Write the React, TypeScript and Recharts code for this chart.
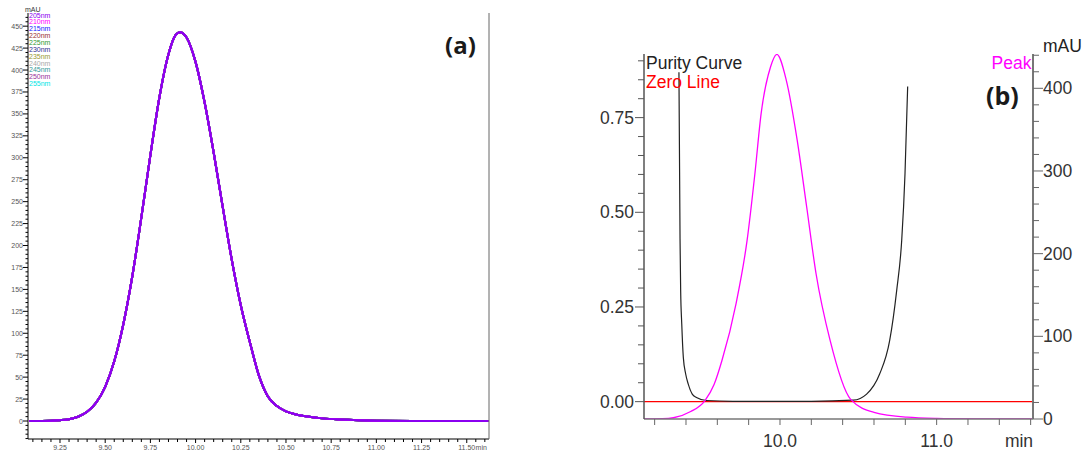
import React from "react";
import { LineChart, Line, XAxis, YAxis } from "recharts";

// ---- panel (a): multi-wavelength chromatogram ----
const wavelengths = ["205nm", "210nm", "215nm", "220nm", "225nm", "230nm", "235nm", "240nm", "245nm", "250nm", "255nm"];
const waveColors = ["#8A00F0", "#FF00FF", "#2020FF", "#993333", "#339933", "#303090", "#999933", "#AAAAAA", "#339999", "#993399", "#00E5E5"];

const peakTimeA = [9.08, 9.2, 9.25, 9.3, 9.35, 9.4, 9.45, 9.5, 9.55, 9.6, 9.65, 9.7, 9.75, 9.8, 9.85, 9.89, 9.914, 9.95, 10.0, 10.05, 10.1, 10.15, 10.2, 10.25, 10.3, 10.35, 10.4, 10.45, 10.5, 10.55, 10.6, 10.7, 10.8, 10.9, 11.0, 11.2, 11.62];
const peakAbsA = [0, 0.3, 0.9, 2.1, 4.9, 10.5, 21, 39, 68, 110, 165, 232, 303, 369, 418, 440, 443, 437, 409, 363, 306, 244, 184, 132, 90, 52, 28, 17, 11, 7.8, 5.8, 3, 1.6, 0.8, 0.4, 0.1, 0];

const yMajorA = [0, 25, 50, 75, 100, 125, 150, 175, 200, 225, 250, 275, 300, 325, 350, 375, 400, 425, 450];
const xMajorA = [9.25, 9.5, 9.75, 10, 10.25, 10.5, 10.75, 11, 11.25, 11.5];

// ---- panel (b): peak purity ----
const purityTime = [9.355, 9.362, 9.366, 9.373, 9.383, 9.398, 9.414, 9.44, 9.467, 9.531, 9.7, 10.2, 10.468, 10.553, 10.636, 10.7, 10.745, 10.777, 10.798, 10.815];
const purityValue = [0.87, 0.43, 0.294, 0.205, 0.117, 0.073, 0.047, 0.02, 0.011, 0.003, 0.001, 0.001, 0.004, 0.02, 0.073, 0.161, 0.294, 0.426, 0.602, 0.832];

const peakTimeB = [9.13, 9.25, 9.32, 9.43, 9.52, 9.58, 9.63, 9.72, 9.79, 9.84, 9.88, 9.94, 9.98, 10.04, 10.11, 10.17, 10.23, 10.32, 10.45, 10.6, 10.81, 11.0, 11.3, 11.615];
const peakAbsB = [0, 0.3, 1.5, 9, 22, 42, 71, 140, 216, 297, 370, 426, 441, 410, 337, 257, 176, 95, 24, 8, 2.2, 0.8, 0.2, 0];

const yMajorB = [0, 0.25, 0.5, 0.75];
const yMajorRightB = [0, 100, 200, 300, 400];
const xMajorB = [10, 11];

const range = (from: number, to: number, step: number) => {
  const out: number[] = [];
  const n = Math.round((to - from) / step);
  for (let i = 0; i <= n; i++) out.push(Math.round((from + i * step) * 1000) / 1000);
  return out;
};

const peakA = peakTimeA.map((t, i) => ({ t, v: peakAbsA[i] }));
const purity = purityTime.map((t, i) => ({ t, v: purityValue[i] }));
const zeroLine = [{ t: 9.132, v: 0 }, { t: 11.615, v: 0 }];
const peakB = peakTimeB.map((t, i) => ({ t, v: peakAbsB[i] }));

const sans = "'Liberation Sans', Arial, sans-serif";

const YTickA = ({ x, y, payload }: any) => {
  const major = yMajorA.includes(payload.value);
  return (
    <g>
      <line x1={x - (major ? 5 : 2.5)} x2={x} y1={y} y2={y} stroke="#000" />
      {major && (
        <text x={x - 5} y={y + 2.5} textAnchor="end" fontSize={7} fill="#555" fontFamily={sans}>
          {payload.value}
        </text>
      )}
    </g>
  );
};

const XTickA = ({ x, y, payload }: any) => {
  const major = xMajorA.includes(payload.value);
  return (
    <g>
      <line x1={x} x2={x} y1={y} y2={y + (major ? 4 : 3)} stroke="#000" />
      {major && (
        <text x={x} y={y + 11} textAnchor="middle" fontSize={7} fill="#555" fontFamily={sans}>
          {payload.value.toFixed(2)}
        </text>
      )}
      {payload.value === 11.5 && (
        <text x={x + 8.8} y={y + 11} textAnchor="start" fontSize={7} fill="#555" fontFamily={sans}>
          min
        </text>
      )}
    </g>
  );
};

const YTickB = ({ x, y, payload }: any) => {
  const major = yMajorB.includes(payload.value);
  return (
    <g>
      <line x1={x - (major ? 9 : 6)} x2={x} y1={y} y2={y} stroke="#555" />
      {major && (
        <text x={x - 10} y={y + 6} textAnchor="end" fontSize={17.5} fill="#333" fontFamily={sans}>
          {payload.value.toFixed(2)}
        </text>
      )}
    </g>
  );
};

const YTickRightB = ({ x, y, payload }: any) => {
  const major = yMajorRightB.includes(payload.value);
  return (
    <g>
      <line x1={x} x2={x + (major ? 10 : 6)} y1={y} y2={y} stroke="#666" />
      {major && (
        <text x={x + 10} y={y + 6} textAnchor="start" fontSize={17.5} fill="#333" fontFamily={sans}>
          {payload.value}
        </text>
      )}
    </g>
  );
};

const XTickB = ({ x, y, payload }: any) => {
  const major = xMajorB.includes(payload.value);
  return (
    <g>
      <line x1={x} x2={x} y1={y} y2={y + 6} stroke="#666" />
      {major && (
        <text x={x} y={y + 28} textAnchor="middle" fontSize={17.5} fill="#333" fontFamily={sans}>
          {payload.value.toFixed(1)}
        </text>
      )}
    </g>
  );
};

export default function App() {
  return (
    <div style={{ position: "absolute", left: 0, top: 0, width: 1088, height: 451, background: "#fff", overflow: "hidden" }}>
      <div style={{ position: "absolute", left: 0, top: 0 }}>
        <LineChart width={500} height={451} data={peakA} margin={{ top: 13, right: 0, bottom: 0, left: 0 }}>
          <XAxis
            dataKey="t"
            type="number"
            domain={[9.073, 11.623]}
            allowDataOverflow
            ticks={range(9.1, 11.6, 0.05)}
            interval={0}
            tickSize={0}
            tickMargin={0}
            tickLine={false}
            tick={(p: any) => <XTickA {...p} />}
            height={12}
            axisLine={{ stroke: "#000" }}
          />
          <XAxis xAxisId="top" orientation="top" type="number" domain={[0, 1]} height={0} tick={false} tickLine={false} axisLine={{ stroke: "#666" }} />
          <YAxis
            type="number"
            domain={[-20.5, 465]}
            allowDataOverflow
            ticks={range(-20, 460, 5)}
            interval={0}
            tickSize={0}
            tickMargin={0}
            tickLine={false}
            tick={(p: any) => <YTickA {...p} />}
            width={28}
            axisLine={{ stroke: "#000" }}
          />
          <YAxis yAxisId="frame" orientation="right" domain={[0, 1]} width={11} tick={false} tickLine={false} axisLine={{ stroke: "#666" }} />
          {wavelengths
            .map((w, i) => (
              <Line key={w} name={w} dataKey="v" type="monotone" stroke={waveColors[i]} strokeWidth={2} dot={false} isAnimationActive={false} />
            ))
            .reverse()}
        </LineChart>
      </div>

      <div style={{ position: "absolute", left: 580, top: 0 }}>
        <LineChart width={508} height={451} margin={{ top: 54, right: 0, bottom: 0, left: 0 }}>
          <XAxis
            dataKey="t"
            type="number"
            domain={[9.132, 11.615]}
            allowDataOverflow
            ticks={range(9.2, 11.6, 0.2)}
            interval={0}
            tickSize={0}
            tickMargin={0}
            tickLine={false}
            tick={(p: any) => <XTickB {...p} />}
            height={32}
            axisLine={{ stroke: "#777", strokeWidth: 1.5 }}
          />
          <XAxis xAxisId="top" orientation="top" type="number" domain={[0, 1]} height={0} tick={false} tickLine={false} axisLine={{ stroke: "#888", strokeWidth: 1.5 }} />
          <YAxis
            yAxisId="pur"
            type="number"
            domain={[-0.0458, 0.918]}
            allowDataOverflow
            ticks={range(0, 0.9, 0.05)}
            interval={0}
            tickSize={0}
            tickMargin={0}
            tickLine={false}
            tick={(p: any) => <YTickB {...p} />}
            width={64}
            axisLine={{ stroke: "#555", strokeWidth: 1.5 }}
          />
          <YAxis
            yAxisId="mau"
            orientation="right"
            type="number"
            domain={[0, 441.5]}
            allowDataOverflow
            ticks={range(0, 440, 20)}
            interval={0}
            tickSize={0}
            tickMargin={0}
            tickLine={false}
            tick={(p: any) => <YTickRightB {...p} />}
            width={55}
            axisLine={{ stroke: "#777", strokeWidth: 2 }}
          />
          <Line yAxisId="pur" data={zeroLine} name="Zero Line" dataKey="v" type="linear" stroke="#FF0000" strokeWidth={1.3} dot={false} isAnimationActive={false} />
          <Line yAxisId="pur" data={purity} name="Purity Curve" dataKey="v" type="monotone" stroke="#222" strokeWidth={1.2} dot={false} isAnimationActive={false} />
          <Line yAxisId="mau" data={peakB} name="Peak" dataKey="v" type="monotone" stroke="#FF00FF" strokeWidth={1.3} dot={false} isAnimationActive={false} />
        </LineChart>
      </div>

      <svg width={1088} height={451} style={{ position: "absolute", left: 0, top: 0, pointerEvents: "none" }}>
        <text x={25} y={12} fontSize={7} fill="#333" fontFamily={sans}>mAU</text>
        {wavelengths.map((w, i) => (
          <text key={w} x={29} y={17.5 + i * 6.87} fontSize={7} fill={waveColors[i]} fontFamily={sans}>
            {w}
          </text>
        ))}
        <text x={445} y={54} fontSize={24} fontWeight="bold" fill="#1a1a1a" fontFamily="'Open Sans', sans-serif">(a)</text>

        <text x={646} y={69} fontSize={17.5} fill="#222" fontFamily={sans}>Purity Curve</text>
        <text x={646} y={88} fontSize={17.5} fill="#FF0000" fontFamily={sans}>Zero Line</text>
        <text x={1031.5} y={69} fontSize={17.5} fill="#FF00FF" textAnchor="end" fontFamily={sans}>Peak</text>
        <text x={1043} y={52} fontSize={17.5} fill="#222" fontFamily={sans}>mAU</text>
        <text x={1019} y={447} fontSize={17.5} fill="#333" textAnchor="middle" fontFamily={sans}>min</text>
        <text x={986} y={105} fontSize={25} fontWeight="bold" fill="#1a1a1a" fontFamily="'Open Sans', sans-serif">(b)</text>
      </svg>
    </div>
  );
}
